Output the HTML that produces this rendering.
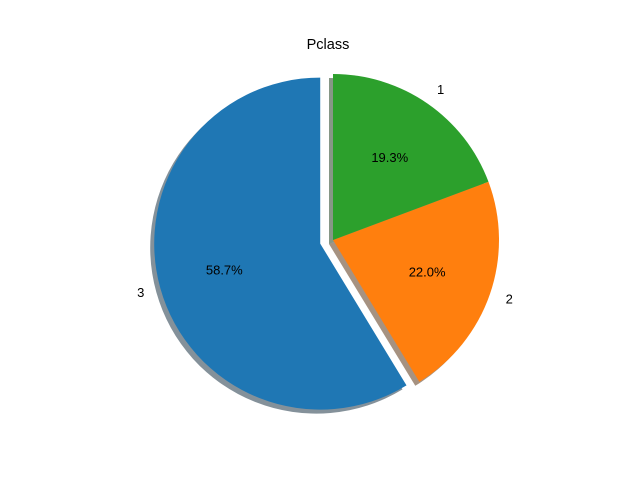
<!DOCTYPE html>
<html><head><meta charset="utf-8"><style>
body{margin:0;background:#fff}
svg{display:block;font-family:"Liberation Sans","DejaVu Sans",sans-serif}
</style></head><body>
<svg width="640" height="480">
<text x="328" y="49" text-anchor="middle" font-size="14.5">Pclass</text>
<g id="shadows"></g><g id="slices"></g><g id="labels"></g>
</svg>
<script>
const labels = ['3', '2', '1'];
const values = [58.7, 22.0, 19.3];
const explode = [0.08, 0, 0];
const colors = ['#1f77b4', '#ff7f0e', '#2ca02c'];
const cx = 333, cy = 240, R = 166, startAngle = 90;
const NS = 'http://www.w3.org/2000/svg';
const total = values.reduce((a, b) => a + b, 0);
const sh = document.getElementById('shadows'), sl = document.getElementById('slices'), lb = document.getElementById('labels');
function pt(x, y, r, a) { const t = a * Math.PI / 180; return [x + r * Math.cos(t), y - r * Math.sin(t)]; }
function arcPath(x, y, a0, a1) {
  const p0 = pt(x, y, R, a0), p1 = pt(x, y, R, a1), large = (a1 - a0) > 180 ? 1 : 0;
  return `M${x},${y}L${p0[0]},${p0[1]}A${R},${R} 0 ${large} 0 ${p1[0]},${p1[1]}Z`;
}
function shade(c) {
  const n = parseInt(c.slice(1), 16), r = n >> 16, g = (n >> 8) & 255, b = n & 255;
  return `rgb(${r * 0.3},${g * 0.3},${b * 0.3})`;
}
let a = startAngle;
values.forEach((v, i) => {
  const span = v / total * 360, mid = a + span / 2;
  const [x, y] = pt(cx, cy, explode[i] * R, mid);
  const s = document.createElementNS(NS, 'path');
  s.setAttribute('d', arcPath(x - 4, y + 4, a, a + span));
  s.setAttribute('fill', shade(colors[i])); s.setAttribute('opacity', '0.5');
  
  
  sh.appendChild(s);
  const p = document.createElementNS(NS, 'path');
  p.setAttribute('d', arcPath(x, y, a, a + span)); p.setAttribute('fill', colors[i]);
  
  
  sl.appendChild(p);
  const lp = pt(x, y, R * 1.1, mid);
  const t = document.createElementNS(NS, 'text');
  t.setAttribute('x', lp[0]); t.setAttribute('y', lp[1] + 4); t.setAttribute('font-size', '13');
  t.setAttribute('text-anchor', Math.cos(mid * Math.PI / 180) < 0 ? 'end' : 'start');
  t.textContent = labels[i];
  
  
  lb.appendChild(t);
  const pp = pt(x, y, R * 0.6, mid);
  const q = document.createElementNS(NS, 'text');
  q.setAttribute('x', pp[0]); q.setAttribute('y', pp[1] + 4); q.setAttribute('font-size', '13');
  q.setAttribute('text-anchor', 'middle');
  q.textContent = (v / total * 100).toFixed(1) + '%';
  
  
  lb.appendChild(q);
  a += span;
});
</script>
</body></html>
